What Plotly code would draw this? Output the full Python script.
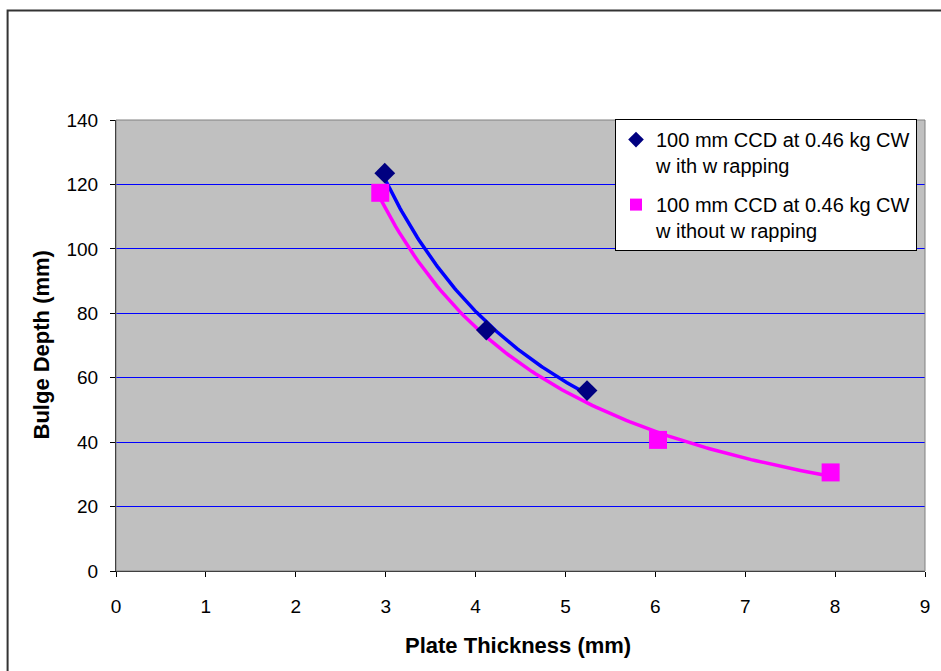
import numpy as np
import plotly.graph_objects as go

# Data
with_x = [2.99, 4.12, 5.24]
with_y = [123.5, 74.8, 56.0]
without_x = [2.94, 6.03, 7.95]
without_y = [117.4, 40.7, 30.6]

name_with = "100 mm CCD at 0.46 kg CW<br>w ith w rapping"
name_without = "100 mm CCD at 0.46 kg CW<br>w ithout w rapping"

x_ticks = list(range(0, 10))
y_ticks = list(range(0, 141, 20))


def power_trend(xs, ys, n=120):
    b, ln_a = np.polyfit(np.log(xs), np.log(ys), 1)
    xx = np.linspace(min(xs), max(xs), n)
    return xx, np.exp(ln_a) * xx ** b


fig = go.Figure()

tx, ty = power_trend(with_x, with_y)
fig.add_trace(go.Scatter(x=tx, y=ty, mode="lines", line=dict(color="#0000FF", width=3.5),
                         showlegend=False, hoverinfo="skip"))
tx2, ty2 = power_trend(without_x, without_y)
fig.add_trace(go.Scatter(x=tx2, y=ty2, mode="lines", line=dict(color="#FF00FF", width=3.5),
                         showlegend=False, hoverinfo="skip"))

fig.add_trace(go.Scatter(x=with_x, y=with_y, mode="markers", name=name_with, legendgroup="a",
                         marker=dict(symbol="diamond", size=16, color="#000080")))
fig.add_trace(go.Scatter(x=without_x, y=without_y, mode="markers", name=name_without, legendgroup="b",
                         marker=dict(symbol="square", size=18, color="#FF00FF")))

fam = "Liberation Sans, Arial, sans-serif"
tick_font = dict(family=fam, size=19, color="black")
title_font = dict(family=fam, size=22, color="black")

fig.update_layout(
    width=941, height=671,
    margin=dict(l=116, r=16, t=120, b=100),
    paper_bgcolor="white",
    plot_bgcolor="#C0C0C0",
    font=tick_font,
    showlegend=True,
    legend=dict(x=(917 - 116) / 809, y=1.002, xanchor="right", yanchor="top",
                bgcolor="white", bordercolor="black", borderwidth=1,
                font=dict(family=fam, size=20, color="black"),
                traceorder="grouped", tracegroupgap=10, valign="top",
                itemsizing="constant"),
    xaxis=dict(range=[0, 9], tickvals=x_ticks, ticks="outside", ticklen=5, tickcolor="black",
               showgrid=False, zeroline=False, showline=True, linecolor="black", linewidth=1,
               tickfont=tick_font, ticklabelstandoff=13, fixedrange=True),
    yaxis=dict(range=[0, 140], tickvals=y_ticks, ticks="outside", ticklen=5, tickcolor="black",
               showgrid=True, gridcolor="#0000FF", gridwidth=1, zeroline=False,
               showline=True, linecolor="black", linewidth=1, tickfont=tick_font,
               ticklabelstandoff=8, fixedrange=True),
    shapes=[
        dict(type="rect", xref="paper", yref="paper", x0=0, x1=1, y0=0, y1=1,
             line=dict(color="#808080", width=1), layer="above"),
        dict(type="rect", xref="paper", yref="paper", x0=-0.134, x1=1.2, y0=-0.4, y1=1.2428,
             line=dict(color="#333333", width=2)),
    ],
    annotations=[
        dict(text="<b>Plate Thickness (mm)</b>", xref="paper", yref="paper",
             x=(518 - 116) / 809, y=(571 - 645) / 451, xanchor="center", yanchor="middle",
             showarrow=False, font=title_font),
        dict(text="<b>Bulge Depth (mm)</b>", xref="paper", yref="paper",
             x=(41 - 116) / 809, y=0.5, xanchor="center", yanchor="middle",
             textangle=-90, showarrow=False, font=title_font),
    ],
)

fig.write_html("out.html")
